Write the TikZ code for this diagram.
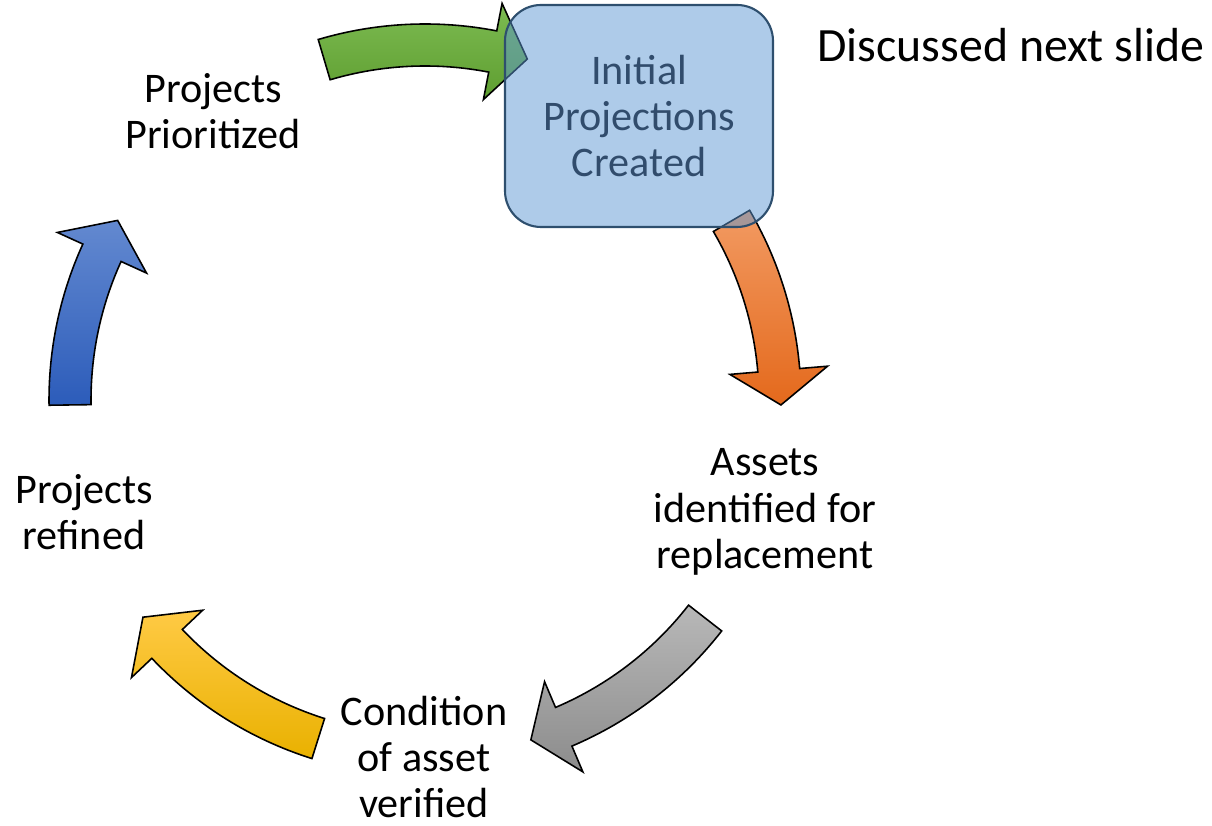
\documentclass[tikz,border=0pt]{standalone}
\usepackage{fontspec}
\setmainfont{Carlito}
\usepackage{tikz}
\usetikzlibrary{positioning, calc}
\definecolor{LeafTop}{HTML}{7DBB52}
\definecolor{LeafBot}{HTML}{5E9E30}
\definecolor{RustTop}{HTML}{F29A62}
\definecolor{RustBot}{HTML}{E4691C}
\definecolor{AshTop}{HTML}{B8B8B8}
\definecolor{AshBot}{HTML}{8C8C8C}
\definecolor{GoldTop}{HTML}{FFCA45}
\definecolor{GoldBot}{HTML}{E9B100}
\definecolor{SeaTop}{HTML}{6389D0}
\definecolor{SeaBot}{HTML}{2C5CBA}
\definecolor{BoxFill}{HTML}{5D97D3}
\definecolor{BoxEdge}{HTML}{2E4F6E}
\definecolor{BoxText}{HTML}{314C6C}
\newcommand{\cyclearrow}[5]{%
    \draw[line width=0.45pt, black, top color=#4, bottom color=#5]
        ($(hub)+(#1:3.76)$) arc[start angle=#1, end angle=#2, radius=3.76cm]
        -- ($(hub)+(#2:4.04)$) -- ($(hub)+(#3:3.56)$) -- ($(hub)+(#2:3.06)$)
        -- ($(hub)+(#2:3.34)$) arc[start angle=#2, end angle=#1, radius=3.34cm]
        -- cycle;}

\begin{document}
\begin{tikzpicture}
    \useasboundingbox (0,0) rectangle (12.12,8.26);
    \coordinate (hub) at (4.25,4.26);

    % Arrows
    \cyclearrow{106.5}{79}{73.3}{LeafTop}{LeafBot}
    \cyclearrow{30.3}{4.8}{-0.8}{RustTop}{RustBot}
    \cyclearrow{-37.9}{-67}{-72.7}{AshTop}{AshBot}
    \cyclearrow{-107.5}{-136.6}{-142.4}{GoldTop}{GoldBot}
    \cyclearrow{180.8}{155.5}{149.7}{SeaTop}{SeaBot}

    % Steps
    \node[rectangle, rounded corners=0.36cm, draw=BoxEdge, line width=0.6pt,
          fill=BoxFill, fill opacity=0.5, text opacity=1, text=BoxText,
          minimum width=2.68cm, minimum height=2.22cm, align=center,
          font=\fontsize{12}{13.2}\selectfont] (create) at (6.39,7.10)
        {Initial\\Projections\\Created};

    \node[align=center, font=\fontsize{12}{13.2}\selectfont] (assets) at (7.65,3.14)
        {Assets\\identified for\\replacement};

    \node[align=center, font=\fontsize{12}{13.2}\selectfont] (verify) at (4.24,0.69)
        {Condition\\of asset\\verified};

    \node[align=center, font=\fontsize{12}{13.2}\selectfont] (refine) at (0.84,3.14)
        {Projects\\refined};

    \node[align=center, font=\fontsize{12}{13.2}\selectfont] (prio) at (2.13,7.15)
        {Projects\\Prioritized};

    % Note
    \node[font=\fontsize{13.6}{16}\selectfont] (note) at (10.11,7.81) {Discussed next slide};
\end{tikzpicture}
\end{document}
